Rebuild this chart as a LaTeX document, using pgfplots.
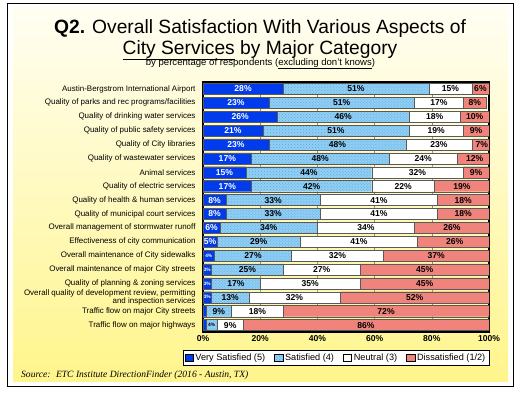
\documentclass[border=0pt]{standalone}
\usepackage{pgfplots}
\pgfplotsset{compat=1.18}
\usepackage{pgfplotstable}
\usepackage{fontspec}
\setmainfont{Liberation Sans}
\newfontfamily\serifit{Liberation Serif}
\usetikzlibrary{patterns}

\definecolor{vsat}{RGB}{0,60,235}
\definecolor{sat}{RGB}{145,208,245}
\definecolor{satdot}{RGB}{95,165,225}
\definecolor{dis}{RGB}{240,132,124}
\definecolor{bgtop}{RGB}{255,254,242}
\definecolor{bgbot}{RGB}{255,245,140}

\pgfplotstableread{
idx v s n d
0 28 51 15 6
1 23 51 17 8
2 26 46 18 10
3 21 51 19 9
4 23 48 23 7
5 17 48 24 12
6 15 44 32 9
7 17 42 22 19
8 8 33 41 18
9 8 33 41 18
10 6 34 34 26
11 5 29 41 26
12 4 27 32 37
13 3 25 27 45
14 3 17 35 45
15 3 13 32 52
16 1 9 18 72
17 1 4 9 86
}\data
\pgfplotstablecreatecol[create col/expr={\thisrow{v}/2}]{cv}\data
\pgfplotstablecreatecol[create col/expr={\thisrow{v}+\thisrow{s}/2}]{cs}\data
\pgfplotstablecreatecol[create col/expr={\thisrow{v}+\thisrow{s}+\thisrow{n}/2}]{cn}\data
\pgfplotstablecreatecol[create col/expr={\thisrow{v}+\thisrow{s}+\thisrow{n}+\thisrow{d}/2}]{cd}\data

\pgfplotsset{
  common/.style={
    at={(203bp,62bp)}, anchor=south west,
    scale only axis, width=286bp, height=250bp,
    xmin=0, xmax=100, ymin=-0.5, ymax=17.5, y dir=reverse,
  },
  lbl/.style={draw=none, mark=none, point meta=explicit symbolic,
    nodes near coords={\ifnum\pgfplotspointmeta<2 \else\ifnum\pgfplotspointmeta<5 \fontsize{4.8}{5}\selectfont\fi\pgfplotspointmeta\%\fi},
    every node near coord/.append style={anchor=center, inner sep=0pt, font=\bfseries\fontsize{8.6}{9}\selectfont}},
}

\begin{document}
\begin{tikzpicture}[x=1bp,y=1bp]
\useasboundingbox (0,0) rectangle (520,394);
\fill[white] (0,0) rectangle (520,394);
\shade[top color=bgtop, bottom color=bgbot] (13,13) rectangle (508,386);
\draw[black, line width=0.9bp] (7,8) rectangle (513,391);

\node[anchor=base, font=\fontsize{19.3}{22}\selectfont, inner sep=0pt] at (260,361) {\textbf{Q2.} Overall Satisfaction With Various Aspects of};
\node[anchor=base, font=\fontsize{19.3}{22}\selectfont, inner sep=0pt] at (260,340) {\underline{City Services} by Major Category};
\node[anchor=base, font=\fontsize{9.6}{11}\selectfont, inner sep=0pt] at (260.5,329) {by percentage of respondents (\underline{excluding don't knows})};
\node[anchor=base west, font=\serifit\itshape\fontsize{9.6}{11}\selectfont, inner sep=0pt] at (21,17) {Source:\hspace{5.5bp}ETC Institute DirectionFinder (2016 - Austin, TX)};

\begin{axis}[common,
  xbar stacked, bar width=0.8,
  axis line style={line width=1.2bp},
  xtick={0,20,40,60,80,100},
  xticklabels={0\%,20\%,40\%,60\%,80\%,100\%},
  xticklabel style={font=\bfseries\fontsize{8.6}{9}\selectfont},
  ytick={0,...,17},
  yticklabels={Austin-Bergstrom International Airport,
    Quality of parks and rec programs/facilities,
    Quality of drinking water services,
    Quality of public safety services,
    Quality of City libraries,
    Quality of wastewater services,
    Animal services,
    Quality of electric services,
    Quality of health \& human services,
    Quality of municipal court services,
    Overall management of stormwater runoff,
    Effectiveness of city communication,
    Overall maintenance of City sidewalks,
    Overall maintenance of major City streets,
    Quality of planning \& zoning services,
    {Overall quality of development review, permitting\\and inspection services},
    Traffic flow on major City streets,
    Traffic flow on major highways},
  yticklabel style={font=\fontsize{8}{8.6}\selectfont, align=right, xshift=-4bp},
  major tick length=0pt,
  xmajorgrids, grid style={black!45, line width=0.6bp},
  legend columns=4,
  legend style={at={(1,0)}, anchor=north east, yshift=-18bp, draw=black,
    font=\fontsize{9.2}{10}\selectfont, inner xsep=1.5bp, inner ysep=1.2bp,
    /tikz/every even column/.append style={column sep=7bp}},
  legend image code/.code={\draw[#1,draw=black] (0bp,-3.4bp) rectangle (8.5bp,3.4bp);},
  every axis plot/.append style={draw=black!65, line width=0.4bp},
]
\addplot[fill=vsat] table[x=v,y=idx]{\data};
\addplot[fill=sat, postaction={pattern=crosshatch dots, pattern color=satdot}] table[x=s,y=idx]{\data};
\addplot[fill=white] table[x=n,y=idx]{\data};
\addplot[fill=dis] table[x=d,y=idx]{\data};
\legend{Very Satisfied (5),Satisfied (4),Neutral (3),Dissatisfied (1/2)}
\end{axis}

\begin{axis}[common, hide axis, clip=false]
\addplot[lbl, every node near coord/.append style={text=white}] table[x=cv,y=idx,meta=v]{\data};
\addplot[lbl] table[x=cs,y=idx,meta=s]{\data};
\addplot[lbl] table[x=cn,y=idx,meta=n]{\data};
\addplot[lbl] table[x=cd,y=idx,meta=d]{\data};
\end{axis}
\end{tikzpicture}
\end{document}
